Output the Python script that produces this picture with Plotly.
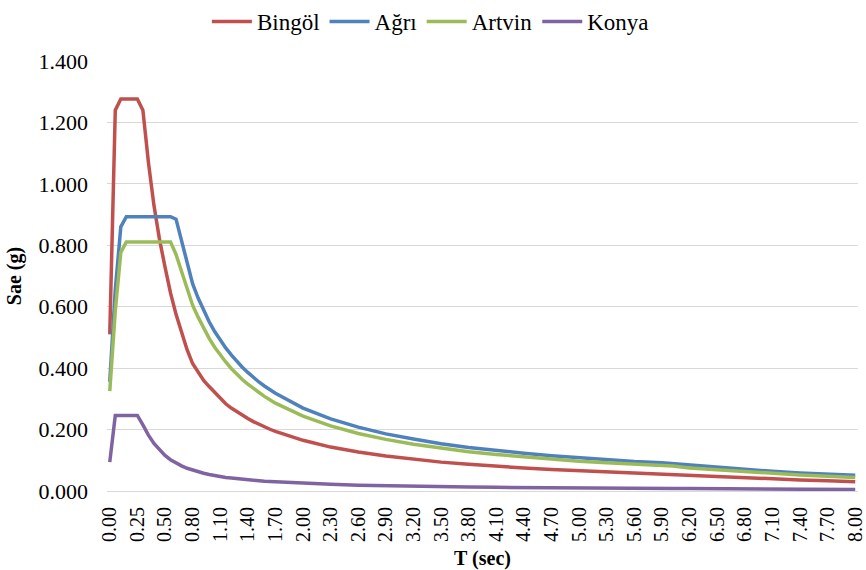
import plotly.graph_objects as go

# Period categories (s) along the horizontal axis
T_CATEGORIES = [
    "0.00", "0.05", "0.10", "0.15", "0.20",
    "0.25", "0.30", "0.35", "0.40", "0.45",
    "0.50", "0.56", "0.62", "0.68", "0.74",
    "0.80", "0.86", "0.92", "0.98", "1.04",
    "1.10", "1.16", "1.22", "1.28", "1.34",
    "1.40", "1.46", "1.52", "1.58", "1.64",
    "1.70", "1.76", "1.82", "1.88", "1.94",
    "2.00", "2.06", "2.12", "2.18", "2.24",
    "2.30", "2.36", "2.42", "2.48", "2.54",
    "2.60", "2.66", "2.72", "2.78", "2.84",
    "2.90", "2.96", "3.02", "3.08", "3.14",
    "3.20", "3.26", "3.32", "3.38", "3.44",
    "3.50", "3.56", "3.62", "3.68", "3.74",
    "3.80", "3.86", "3.92", "3.98", "4.04",
    "4.10", "4.16", "4.22", "4.28", "4.34",
    "4.40", "4.46", "4.52", "4.58", "4.64",
    "4.70", "4.76", "4.82", "4.88", "4.94",
    "5.00", "5.06", "5.12", "5.18", "5.24",
    "5.30", "5.36", "5.42", "5.48", "5.54",
    "5.60", "5.66", "5.72", "5.78", "5.84",
    "5.90", "5.96", "6.02", "6.08", "6.14",
    "6.20", "6.26", "6.32", "6.38", "6.44",
    "6.50", "6.56", "6.62", "6.68", "6.74",
    "6.80", "6.86", "6.92", "6.98", "7.04",
    "7.10", "7.16", "7.22", "7.28", "7.34",
    "7.40", "7.46", "7.52", "7.58", "7.64",
    "7.70", "7.76", "7.82", "7.88", "7.94",
    "8.00",
]

# Labelled periods on the horizontal axis
TICK_LABELS = [
    "0.00", "0.25", "0.50", "0.80", "1.10", "1.40", "1.70", "2.00", "2.30",
    "2.60", "2.90", "3.20", "3.50", "3.80", "4.10", "4.40", "4.70", "5.00",
    "5.30", "5.60", "5.90", "6.20", "6.50", "6.80", "7.10", "7.40", "7.70",
    "8.00",
]

# Periods at which the spectral accelerations are tabulated
T_SAMPLED = [
    "0.00", "0.05", "0.10", "0.15", "0.20", "0.25", "0.30", "0.35", "0.40",
    "0.45", "0.50", "0.56", "0.62", "0.68", "0.74", "0.80", "0.86", "0.92",
    "0.98", "1.04", "1.10", "1.16", "1.22", "1.28", "1.34", "1.40", "1.46",
    "1.52", "1.58", "1.64", "1.70",
    "2.00", "2.30", "2.60", "2.90", "3.20", "3.50", "3.80", "4.10", "4.40",
    "4.70", "5.00", "5.30", "5.60", "5.90", "6.02",
    "6.20", "6.50", "6.80", "7.10", "7.40", "7.70", "8.00",
]

# Horizontal elastic spectral acceleration Sae (g)
BINGOL = [
    0.51, 1.24, 1.276, 1.276, 1.276, 1.276, 1.24, 1.07, 0.93, 0.82,
    0.73, 0.645, 0.575, 0.515, 0.46, 0.415, 0.385, 0.36, 0.34, 0.32,
    0.30, 0.284, 0.270, 0.258, 0.246, 0.236, 0.226, 0.217, 0.209, 0.201,
    0.194,
    0.165, 0.143, 0.127, 0.114, 0.103, 0.094, 0.087, 0.080, 0.075,
    0.070, 0.066, 0.062, 0.059, 0.056, 0.055,
    0.0515, 0.047, 0.043, 0.039, 0.036, 0.033, 0.030,
]
AGRI = [
    0.355, 0.655, 0.86, 0.893, 0.893, 0.893, 0.893, 0.893, 0.893, 0.893,
    0.893, 0.893, 0.885, 0.815, 0.735, 0.675, 0.628, 0.587, 0.551, 0.519,
    0.491, 0.466, 0.443, 0.422, 0.403, 0.386, 0.370, 0.355, 0.342, 0.329,
    0.318,
    0.270, 0.235, 0.208, 0.186, 0.169, 0.154, 0.142, 0.132, 0.123,
    0.115, 0.108, 0.102, 0.096, 0.092, 0.089,
    0.084, 0.077, 0.070, 0.064, 0.059, 0.055, 0.051,
]
ARTVIN = [
    0.325, 0.586, 0.777, 0.811, 0.811, 0.811, 0.811, 0.811, 0.811, 0.811,
    0.811, 0.811, 0.77, 0.715, 0.655, 0.605, 0.566, 0.529, 0.497, 0.468,
    0.443, 0.420, 0.399, 0.380, 0.363, 0.348, 0.334, 0.320, 0.308, 0.297,
    0.286,
    0.244, 0.212, 0.187, 0.168, 0.152, 0.139, 0.128, 0.119, 0.111,
    0.104, 0.097, 0.092, 0.087, 0.083, 0.081,
    0.075, 0.069, 0.062, 0.057, 0.052, 0.048, 0.044,
]
KONYA = [
    0.094, 0.246, 0.246, 0.246, 0.246, 0.246, 0.215, 0.182, 0.155, 0.134,
    0.116, 0.102, 0.091, 0.082, 0.074, 0.068, 0.063, 0.058, 0.054, 0.050,
    0.047, 0.044, 0.042, 0.040, 0.038, 0.036, 0.035, 0.033, 0.032, 0.031,
    0.030,
    0.025, 0.022, 0.019, 0.017, 0.016, 0.014, 0.013, 0.012, 0.011,
    0.011, 0.010, 0.0094, 0.0089, 0.0085, 0.0083,
    0.0078, 0.0071, 0.0065, 0.0060, 0.0055, 0.0051, 0.0047,
]

SERIES = [
    ("Bingöl", BINGOL, "#C0504D"),
    ("Ağrı", AGRI, "#4F81BD"),
    ("Artvin", ARTVIN, "#9BBB59"),
    ("Konya", KONYA, "#8064A2"),
]

FONT = "Liberation Serif"

fig = go.Figure()
for name, values, color in SERIES:
    fig.add_trace(go.Scatter(
        x=T_SAMPLED, y=values, name=name, mode="lines",
        line=dict(color=color, width=3.5),
    ))

fig.update_layout(
    width=866, height=570,
    margin=dict(l=107, r=8, t=61, b=79),
    paper_bgcolor="white", plot_bgcolor="white",
    font=dict(family=FONT, size=20, color="black"),
    legend=dict(
        orientation="h", xref="container", yref="container",
        x=0.497, xanchor="center", y=1.0, yanchor="top",
        font=dict(family=FONT, size=23, color="black"),
        itemwidth=40, tracegroupgap=0,
    ),
)

fig.update_xaxes(
    type="category", categoryorder="array", categoryarray=T_CATEGORIES,
    range=[-0.5, len(T_CATEGORIES) - 0.5], automargin=False,
    tickmode="array", tickvals=TICK_LABELS, ticktext=TICK_LABELS,
    tickangle=-90, tickfont=dict(family=FONT, size=20, color="black"),
    ticks="", ticklabelstandoff=7,
    showgrid=False, zeroline=False,
    showline=True, linecolor="#d9d9d9", linewidth=1,
    title=dict(text="<b>T (sec)</b>", font=dict(family=FONT, size=20),
               standoff=13),
)

fig.update_yaxes(
    range=[0, 1.4], dtick=0.2, tick0=0, tickformat=".3f", automargin=False,
    tickfont=dict(family=FONT, size=22, color="black"),
    ticks="", ticklabelstandoff=18,
    showgrid=True, gridcolor="#d9d9d9", gridwidth=1,
    zeroline=False, showline=False,
    title=dict(text="<b>Sae (g)</b>", font=dict(family=FONT, size=20),
               standoff=11),
)

fig.write_html("out.html")
